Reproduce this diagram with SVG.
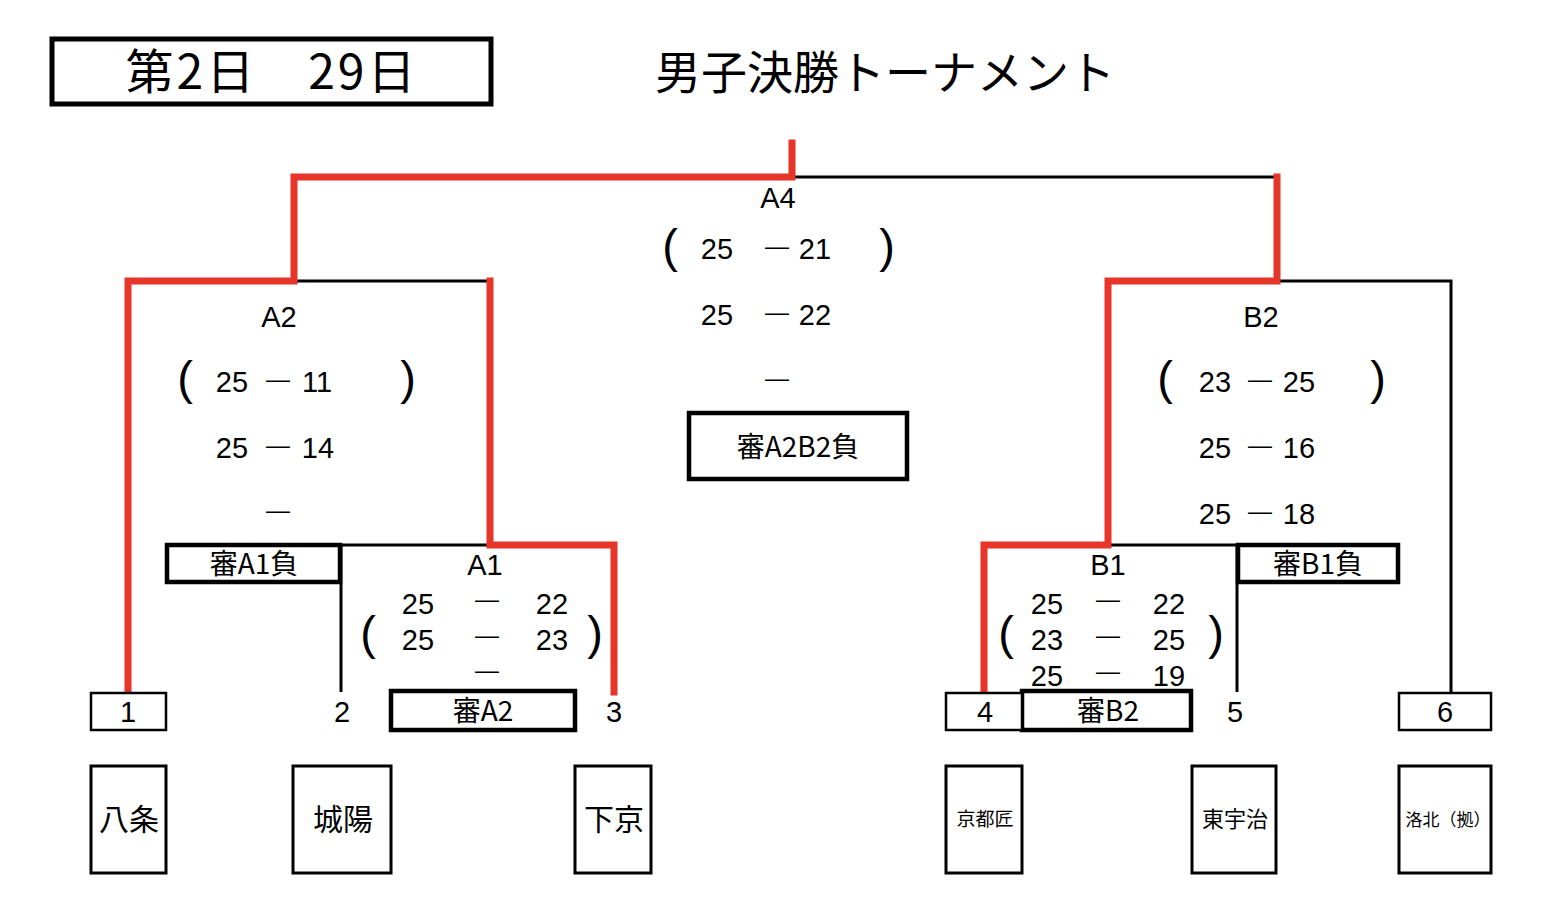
<svg xmlns="http://www.w3.org/2000/svg" width="1544" height="900" viewBox="0 0 1544 900">
<style>
text{font-family:"Noto Sans CJK JP","Liberation Sans",sans-serif;fill:#000;text-anchor:middle}
.t{font-family:"Liberation Sans","Noto Sans CJK JP",sans-serif;font-size:29px}
.j{font-size:28px}
.d{font-family:"Liberation Sans",sans-serif;font-size:24px}
.p{font-family:"Liberation Sans",sans-serif;font-size:47px}
.box{fill:#fff;stroke:#000;stroke-width:2.5}
.tb{fill:#fff;stroke:#000;stroke-width:4.5}
.red{fill:none;stroke:#e8352a;stroke-width:7;stroke-linecap:square;stroke-linejoin:miter}
.blk{fill:none;stroke:#000;stroke-width:3}
.team{fill:#fff;stroke:#000;stroke-width:3}
</style>
<rect width="1544" height="900" fill="#fff"/>

<g id="header">
<rect x="52" y="39" width="439" height="65" fill="#fff" stroke="#000" stroke-width="5"/>
<text x="272" y="89" style="font-size:48px;letter-spacing:3px">第2日　29日</text>
<text x="885" y="89" style="font-size:46px">男子決勝トーナメント</text>
</g>

<g id="connectors">
<polyline class="blk" points="792,177 1277,177"/>
<polyline class="blk" points="294,281 490,281"/>
<polyline class="blk" points="1277,281 1451,281 1451,692"/>
<polyline class="blk" points="490,545 341,545 341,692"/>
<polyline class="blk" points="1108,545 1237,545 1237,692"/>
<polyline class="red" points="792,143 792,177 294,177 294,281 128,281 128,692"/>
<polyline class="red" points="490,281 490,545 614,545 614,692"/>
<polyline class="red" points="1277,177 1277,281 1108,281 1108,545 984,545 984,692"/>
</g>

<g id="match-A4">
<text x="778" y="208" class="t">A4</text>
<text x="670" y="262" class="p">(</text>
<text x="887" y="262" class="p">)</text>
<text x="717" y="259" class="t">25</text><text x="777" y="254" class="d">—</text><text x="815" y="259" class="t">21</text>
<text x="717" y="325" class="t">25</text><text x="777" y="320" class="d">—</text><text x="815" y="325" class="t">22</text>
<text x="777" y="386" class="d">—</text>
</g>
<g id="ref-A2B2">
<rect x="689" y="413" width="218" height="66" class="tb" stroke-width="5"/>
<text x="798" y="457" class="j">審A2B2負</text>
</g>

<g id="match-A2">
<text x="279" y="327" class="t">A2</text>
<text x="185" y="394" class="p">(</text>
<text x="408" y="394" class="p">)</text>
<text x="232" y="392" class="t">25</text><text x="278" y="387" class="d">—</text><text x="317" y="392" class="t">11</text>
<text x="232" y="458" class="t">25</text><text x="278" y="453" class="d">—</text><text x="318" y="458" class="t">14</text>
<text x="278" y="518" class="d">—</text>
</g>

<g id="match-B2">
<text x="1261" y="327" class="t">B2</text>
<text x="1165" y="394" class="p">(</text>
<text x="1378" y="394" class="p">)</text>
<text x="1215" y="392" class="t">23</text><text x="1260" y="387" class="d">—</text><text x="1299" y="392" class="t">25</text>
<text x="1215" y="458" class="t">25</text><text x="1260" y="453" class="d">—</text><text x="1299" y="458" class="t">16</text>
<text x="1215" y="524" class="t">25</text><text x="1260" y="519" class="d">—</text><text x="1299" y="524" class="t">18</text>
</g>

<g id="match-A1">
<text x="485" y="575" class="t">A1</text>
<text x="368" y="649" class="p">(</text>
<text x="595" y="649" class="p">)</text>
<text x="418" y="614" class="t">25</text><text x="487" y="607" class="d">—</text><text x="552" y="614" class="t">22</text>
<text x="418" y="650" class="t">25</text><text x="487" y="643" class="d">—</text><text x="552" y="650" class="t">23</text>
<text x="487" y="678" class="d">—</text>
</g>

<g id="match-B1">
<text x="1108" y="575" class="t">B1</text>
<text x="1006" y="649" class="p">(</text>
<text x="1216" y="649" class="p">)</text>
<text x="1047" y="614" class="t">25</text><text x="1108" y="607" class="d">—</text><text x="1169" y="614" class="t">22</text>
<text x="1047" y="650" class="t">23</text><text x="1108" y="643" class="d">—</text><text x="1169" y="650" class="t">25</text>
<text x="1047" y="686" class="t">25</text><text x="1108" y="679" class="d">—</text><text x="1169" y="686" class="t">19</text>
</g>

<g id="ref-A1"><rect x="167" y="545" width="173" height="37" class="tb"/><text x="254" y="574" class="j">審A1負</text></g>
<g id="ref-B1"><rect x="1238" y="545" width="160" height="37" class="tb"/><text x="1318" y="574" class="j">審B1負</text></g>
<g id="ref-A2"><rect x="391" y="691" width="184" height="39" class="tb"/><text x="483" y="721" class="j">審A2</text></g>
<g id="ref-B2"><rect x="1022" y="691" width="169" height="39" class="tb"/><text x="1108" y="721" class="j">審B2</text></g>

<g id="seed-1"><rect x="91" y="693" width="75" height="37" class="box"/><text x="128" y="722" class="t">1</text></g>
<g id="seed-2"><text x="342" y="722" class="t">2</text></g>
<g id="seed-3"><text x="614" y="722" class="t">3</text></g>
<g id="seed-4"><rect x="946" y="693" width="76" height="37" class="box"/><text x="985" y="722" class="t">4</text></g>
<g id="seed-5"><text x="1235" y="722" class="t">5</text></g>
<g id="seed-6"><rect x="1399" y="693" width="92" height="37" class="box"/><text x="1445" y="722" class="t">6</text></g>

<g id="team-1"><rect x="91" y="766" width="75" height="107" class="team"/><text x="129" y="830" style="font-size:30px">八条</text></g>
<g id="team-2"><rect x="293" y="766" width="98" height="107" class="team"/><text x="343" y="830" style="font-size:30px">城陽</text></g>
<g id="team-3"><rect x="575" y="766" width="76" height="107" class="team"/><text x="614" y="830" style="font-size:30px">下京</text></g>
<g id="team-4"><rect x="946" y="766" width="76" height="107" class="team"/><text x="985" y="826" style="font-size:19px">京都匠</text></g>
<g id="team-5"><rect x="1192" y="766" width="84" height="107" class="team"/><text x="1235" y="827" style="font-size:22px">東宇治</text></g>
<g id="team-6"><rect x="1399" y="766" width="92" height="107" class="team"/><text x="1448" y="826" style="font-size:17px">洛北（拠）</text></g>
</svg>
